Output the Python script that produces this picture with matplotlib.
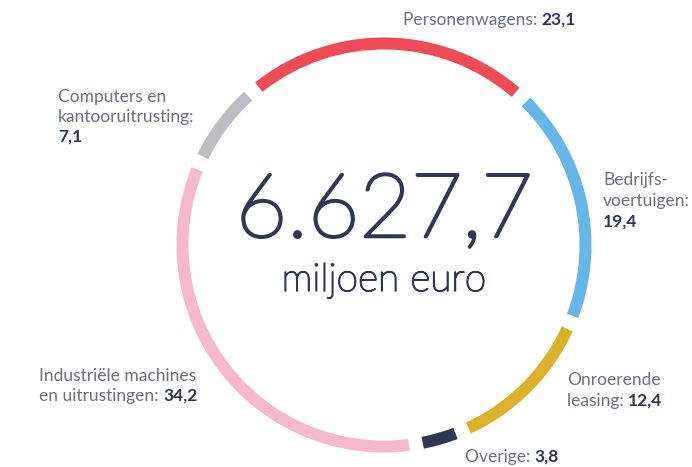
import matplotlib.pyplot as plt
import matplotlib.patheffects as pe

# --- Data ---
categories = ['Personenwagens', 'Bedrijfs-\nvoertuigen', 'Onroerende\nleasing', 'Overige',
              'Industriële machines\nen uitrustingen', 'Computers en\nkantooruitrusting']
shares = [23.1, 19.4, 12.4, 3.8, 34.2, 7.1]
share_labels = ['23,1', '19,4', '12,4', '3,8', '34,2', '7,1']
colors = ['#ef4b56', '#64b7e6', '#dcb12c', '#2e3852', '#f5b8cd', '#bdbec2']
total_text = '6.627,7'
unit_text = 'miljoen euro'

TEXT_GREY = '#6b7084'
TEXT_DARK = '#2e3852'
FONT = 'Lato'

# --- Figure in pixel coordinates ---
fig = plt.figure(figsize=(6.92, 4.67), dpi=100)
ax = fig.add_axes([0, 0, 1, 1])

cx, cy, radius, ring = 384, 245, 207.5, 12
gap = 4.0  # degrees of white space between segments

wedges, _ = ax.pie(shares, colors=colors, startangle=-130.4, counterclock=True,
                   center=(cx, cy), radius=radius,
                   wedgeprops=dict(width=ring, linewidth=0))
for w in wedges:
    w.set_theta1(w.theta1 + gap / 2)
    w.set_theta2(w.theta2 - gap / 2)

ax.set_xlim(0, 692)
ax.set_ylim(467, 0)
ax.set_aspect('equal')
ax.axis('off')

# --- Centre total (thin face, thickened a little with a stroke) ---
ax.text(384, 213, total_text, ha='center', va='center', fontsize=64,
        fontfamily=FONT, fontweight='light', color=TEXT_DARK,
        path_effects=[pe.Stroke(linewidth=2.2, foreground=TEXT_DARK), pe.Normal()])
ax.text(384, 280, unit_text, ha='center', va='center', fontsize=28,
        fontfamily=FONT, fontweight='light', color=TEXT_DARK,
        path_effects=[pe.Stroke(linewidth=1.1, foreground=TEXT_DARK), pe.Normal()])

renderer = fig.canvas.get_renderer()
inv = ax.transData.inverted()


def label(x, y, name, value, line_h=20.5, size=12.5):
    lines = name.split('\n')
    for i, ln in enumerate(lines):
        yy = y + i * line_h
        last = i == len(lines) - 1
        t = ax.text(x, yy, ln + (': ' if last else ''), ha='left', va='center',
                    fontsize=size, fontfamily=FONT, color=TEXT_GREY)
        if last:
            bb = t.get_window_extent(renderer)
            x_end = inv.transform((bb.x1, bb.y0))[0]
            ax.text(x_end, yy, value, ha='left', va='center', fontsize=size,
                    fontfamily=FONT, fontweight='bold', color=TEXT_DARK)


def colon_label(x, y, name, value, line_h=20.5):
    # the colon closes the name and the value goes on its own line
    lines = name.split('\n')
    for i, ln in enumerate(lines):
        txt = ln + (':' if i == len(lines) - 1 else '')
        ax.text(x, y + i * line_h, txt, ha='left', va='center', fontsize=12.5,
                fontfamily=FONT, color=TEXT_GREY)
    ax.text(x, y + len(lines) * line_h, value, ha='left', va='center', fontsize=12.5,
            fontfamily=FONT, fontweight='bold', color=TEXT_DARK)


label(403, 20, categories[0], share_labels[0])
colon_label(603, 180, categories[1], share_labels[1], line_h=21)
label(567, 380, categories[2], share_labels[2], line_h=21)
label(465, 457, categories[3], share_labels[3])
label(39, 376, categories[4], share_labels[4], line_h=19.5)
colon_label(58, 97, categories[5], share_labels[5], line_h=20)

fig.savefig('out.png', dpi=100, facecolor='white')
